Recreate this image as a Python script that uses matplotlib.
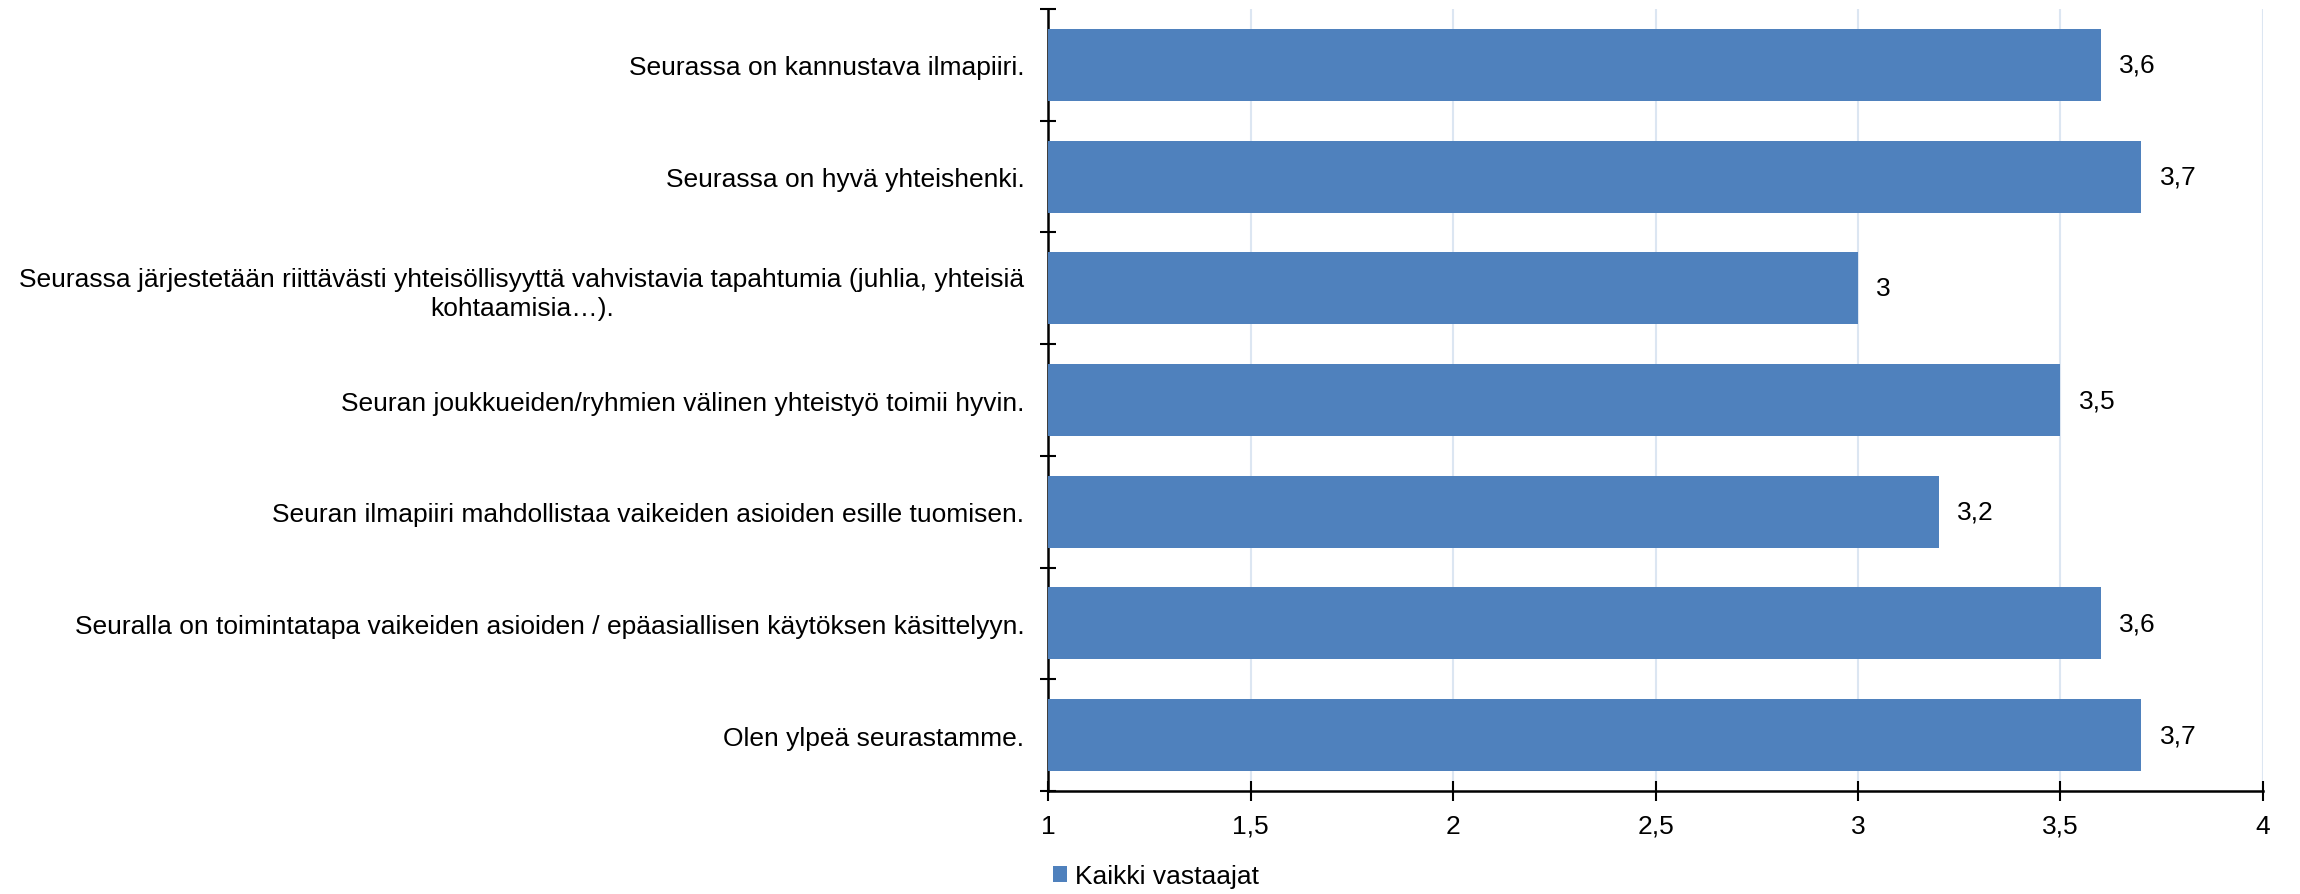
import matplotlib
matplotlib.use("Agg")
import matplotlib.pyplot as plt
from matplotlib.ticker import FixedLocator, FuncFormatter

plt.rcParams['font.family'] = ['Liberation Sans', 'DejaVu Sans']

# Survey statements and mean scores (scale 1-4)
statements = [
    "Seurassa on kannustava ilmapiiri.",
    "Seurassa on hyvä yhteishenki.",
    "Seurassa järjestetään riittävästi yhteisöllisyyttä vahvistavia tapahtumia (juhlia, yhteisiä\nkohtaamisia…).",
    "Seuran joukkueiden/ryhmien välinen yhteistyö toimii hyvin.",
    "Seuran ilmapiiri mahdollistaa vaikeiden asioiden esille tuomisen.",
    "Seuralla on toimintatapa vaikeiden asioiden / epäasiallisen käytöksen käsittelyyn.",
    "Olen ylpeä seurastamme.",
]
scores = [3.6, 3.7, 3.0, 3.5, 3.2, 3.6, 3.7]
series_name = "Kaikki vastaajat"
x_ticks = [1, 1.5, 2, 2.5, 3, 3.5, 4]

bar_color = "#4f81bd"
fs = 19

fig = plt.figure(figsize=(23, 8.95), dpi=100)
ax = fig.add_axes([0.4557, 0.1151, 0.5282, 0.8737])

pos = list(range(len(statements)))
bars = ax.barh(pos, [s - 1 for s in scores], left=1, height=0.645,
               color=bar_color, zorder=3, label=series_name)

def fmt(v):
    s = ("%.1f" % v).rstrip("0").rstrip(".")
    return s.replace(".", ",")

for p, s in zip(pos, scores):
    ax.annotate(fmt(s), (s, p), xytext=(13, 0), textcoords="offset points",
                va="center", ha="left", fontsize=fs)

ax.set_xlim(1, 4)
ax.set_ylim(len(statements) - 0.5, -0.5)

ax.set_xticks(x_ticks)
ax.xaxis.set_major_formatter(FuncFormatter(lambda v, _: fmt(v)))
ax.grid(axis="x", color="#dce6f2", linewidth=1.5, zorder=0)

ax.set_yticks(pos)
ax.set_yticklabels(statements, multialignment="center", linespacing=1.3)
ax.yaxis.set_minor_locator(FixedLocator([p - 0.5 for p in pos] + [len(pos) - 0.5]))

ax.tick_params(axis="y", which="major", length=0, pad=17, labelsize=fs)
ax.tick_params(axis="y", which="minor", direction="inout", length=11, width=1.5)
ax.tick_params(axis="x", which="major", direction="inout", length=15, width=1.5,
               pad=9, labelsize=fs)

for side in ("top", "right"):
    ax.spines[side].set_visible(False)
for side in ("left", "bottom"):
    ax.spines[side].set_linewidth(1.8)

ax.legend(loc="upper left", bbox_to_anchor=(0.004, -0.094), frameon=False,
          fontsize=fs, handlelength=0.55, handleheight=0.55, handletextpad=0.3,
          borderaxespad=0, borderpad=0)

fig.savefig("out.png", dpi=100)
